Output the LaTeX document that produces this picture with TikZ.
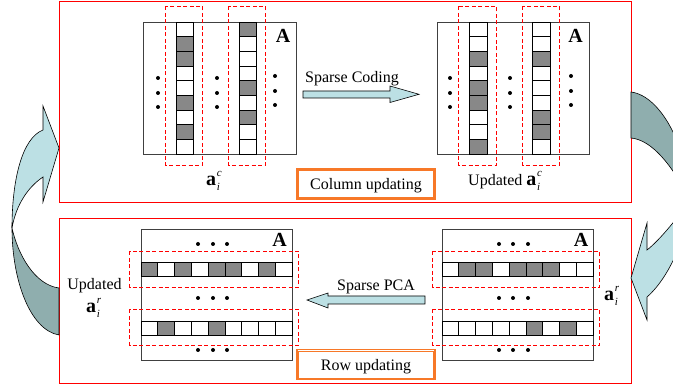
\documentclass[tikz,border=0pt]{standalone}
\usepackage{fontspec}
\setmainfont{Liberation Serif}
\definecolor{cellgray}{RGB}{136,136,136}
\definecolor{lightarr}{RGB}{188,224,228}
\definecolor{darkarr}{RGB}{143,174,174}
\definecolor{boxorange}{RGB}{247,120,40}
\definecolor{framered}{RGB}{255,0,0}
\newcommand\colcells[3]{\foreach \cc [count=\k from 0] in {#3} {\draw[cell, fill=\cc] ({#1},{22+\k*14.667}) rectangle ++(#2,14.667);}}
\newcommand\rowcells[3]{\foreach \cc [count=\k from 0] in {#3} {\draw[cell, fill=\cc] ({#1+\k*16.778},{#2}) rectangle ++(16.778,14.5);}}
\newcommand\avec[1]{{\fontsize{20}{20}\selectfont\bfseries a}\kern0.6pt\raisebox{-5pt}{\rlap{\fontsize{11}{11}\selectfont\itshape i}}\raisebox{9pt}{\fontsize{11}{11}\selectfont\itshape #1}}
\begin{document}
\begin{tikzpicture}[x=1pt,y=-1pt,
  mat/.style={draw=black!75, line width=0.8pt},
  cell/.style={draw=black, line width=0.7pt},
  dashbox/.style={draw=framered, dash pattern=on 4pt off 2.5pt, line width=1pt},
  frame/.style={draw=framered, line width=1pt},
  txt/.style={font=\fontsize{16}{18}\selectfont, inner sep=0pt},
  biga/.style={font=\fontsize{20}{20}\selectfont\bfseries, inner sep=0pt},
  obox/.style={draw=boxorange, line width=1.3pt, minimum width=138pt, minimum height=30pt,
     inner sep=0pt, font=\fontsize{16}{18}\selectfont},
  oinner/.style={draw=boxorange, line width=0.6pt},
  blockarrow/.style={draw=black, line width=0.6pt, fill=lightarr},
  twistlight/.style={draw=black, line width=0.6pt, fill=lightarr},
  twistdark/.style={draw=black, line width=0.6pt, fill=darkarr}]
\useasboundingbox (0,0) rectangle (673,387);
\begin{scope}
\clip (0,0) rectangle (673,387);
\fill[white] (0,0) rectangle (673,387);

% frames
\draw[frame] (59.5,1.5) rectangle (631.5,202.5);
\draw[frame] (59.5,218.5) rectangle (631.5,383.5);

% ---------- top-left matrix ----------
\draw[mat] (143,22) rectangle (296,154);
\colcells{176}{17}{white,cellgray,cellgray,white,white,cellgray,white,cellgray,white}
\colcells{239}{17}{cellgray,white,white,white,cellgray,white,cellgray,white,white}
\foreach \y in {78,93,107} {\fill[black] (158,\y) circle (2); \fill[black] (217,\y) circle (2);}
\foreach \y in {76,91,105} {\fill[black] (275,\y) circle (2);}
\draw[dashbox] (165.5,6.5) rectangle (202.5,165.5);
\draw[dashbox] (228.5,6.5) rectangle (265.5,165.5);

% ---------- top-right matrix ----------
\draw[mat] (437,22) rectangle (589,154);
\colcells{469}{18}{white,white,cellgray,white,cellgray,cellgray,white,white,cellgray}
\colcells{532}{18}{white,white,cellgray,white,white,white,cellgray,cellgray,white}
\foreach \y in {78,93,107} {\fill[black] (450,\y) circle (2); \fill[black] (510,\y) circle (2);}
\foreach \y in {76,91,105} {\fill[black] (571,\y) circle (2);}
\draw[dashbox] (458.5,6.5) rectangle (496.5,165.5);
\draw[dashbox] (522.5,6.5) rectangle (559.5,165.5);

% Sparse coding arrow
\draw[blockarrow] (303,91) -- (390,91) -- (390,86) -- (419,94.3) -- (390,102.5) -- (390,98) -- (303,98) -- cycle;

% ---------- bottom-left matrix ----------
\draw[mat] (141,229) rectangle (292,360);
\rowcells{141}{262}{cellgray,white,cellgray,white,cellgray,cellgray,white,cellgray,white}
\rowcells{141}{321}{white,cellgray,white,white,cellgray,white,white,white,white}
\foreach \y in {244,298,350} {\foreach \x in {198,213,227} {\fill[black] (\x,\y) circle (2);}}
\draw[dashbox] (129.5,251.5) rectangle (298.5,287.5);
\draw[dashbox] (129.5,309.5) rectangle (298.5,345.5);

% ---------- bottom-right matrix ----------
\draw[mat] (442,229) rectangle (593,360);
\rowcells{442}{262}{white,cellgray,cellgray,white,cellgray,cellgray,cellgray,white,white}
\rowcells{442}{321}{white,white,white,white,white,cellgray,white,cellgray,white}
\foreach \y in {244,298,350} {\foreach \x in {499,513,528} {\fill[black] (\x,\y) circle (2);}}
\draw[dashbox] (432.5,251.5) rectangle (599.5,287.5);
\draw[dashbox] (432.5,309.5) rectangle (599.5,345.5);

% Sparse PCA arrow
\draw[blockarrow] (425,296) -- (328,296) -- (328,293) -- (307,300) -- (328,308) -- (328,304) -- (425,304) -- cycle;

% ---------- left twisted arrow ----------
\draw[twistdark] (12,228) .. controls (12,280) and (30,330) .. (59,335) -- (59,288)
   .. controls (35,285) and (18,255) .. (12,228) -- cycle;
\draw[twistlight] (59,148) -- (43,106) -- (43,130) .. controls (22,138) and (12,180) .. (12,228)
   .. controls (16,205) and (28,187) .. (43,177) -- (43,202) -- cycle;

% ---------- right twisted arrow ----------
\draw[twistdark] (631,92) .. controls (662,96) and (688,150) .. (690,200)
   .. controls (672,165) and (652,140) .. (631,138) -- cycle;
\draw[twistlight] (690,200) .. controls (680,215) and (660,240) .. (647,250) -- (647,223)
   -- (631,278) -- (647,320) -- (647,297) .. controls (672,275) and (688,230) .. (690,200) -- cycle;

% orange boxes
\node[obox] (colupd) at (366,184) {};
\node[obox] (rowupd) at (366,364.5) {};
\draw[oinner] ([shift={(2.2pt,2.2pt)}]colupd.south west) rectangle ([shift={(-2.2pt,-2.2pt)}]colupd.north east);
\draw[oinner] ([shift={(2.2pt,2.2pt)}]rowupd.south west) rectangle ([shift={(-2.2pt,-2.2pt)}]rowupd.north east);
\end{scope}

% ---------- texts ----------
\node[biga, anchor=base] (A1) at (283,43) {A};
\node[txt, anchor=base west] (aic) at (206,186) {\avec{c}};
\node[biga, anchor=base] (A2) at (575.5,43) {A};
\node[txt, anchor=base west] (uaic) at (468,186) {Updated \avec{c}};
\node[txt, anchor=base] (sc) at (352,83) {Sparse Coding};
\node[txt, anchor=base] (coltxt) at (366,190) {Column updating};
\node[biga, anchor=base] (A3) at (279.5,247) {A};
\node[txt, anchor=base] (upd) at (94.5,290) {Updated};
\node[txt, anchor=base west] (air) at (86,313) {\avec{r}};
\node[biga, anchor=base] (A4) at (581,247) {A};
\node[txt, anchor=base west] (ar) at (604,301) {\avec{r}};
\node[txt, anchor=base] (spca) at (376,291) {Sparse PCA};
\node[txt, anchor=base] (rowtxt) at (366,371) {Row updating};
\end{tikzpicture}
\end{document}
